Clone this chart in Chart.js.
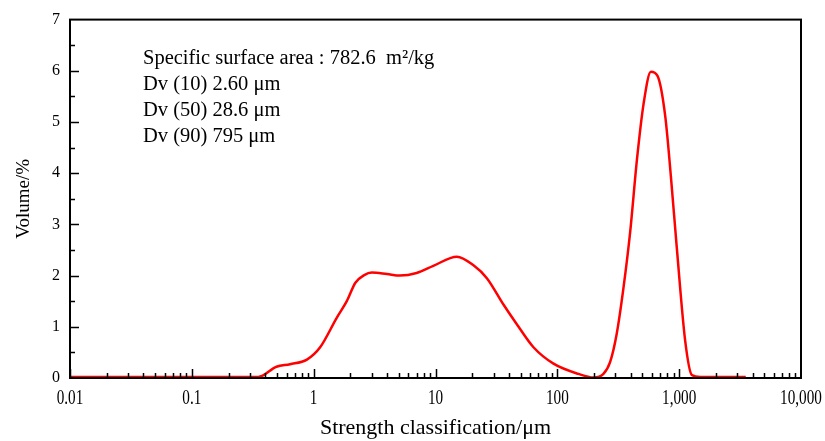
<!DOCTYPE html>
<html lang="en">
<head>
    <meta charset="UTF-8">
    <title>Particle size distribution</title>
    <script src="https://cdn.jsdelivr.net/npm/chart.js"></script>
    <style>
        html, body { margin: 0; padding: 0; background: #fff; }
        #wrap { width: 825px; height: 441px; }
    </style>
</head>
<body>
    <div id="wrap"><canvas id="psd"></canvas></div>

    <script>
        // particle size (um) and volume (%)
        const sizes   = [0.01, 0.35, 0.495, 0.64, 0.88, 1.13, 1.55, 1.87, 2.2, 2.6, 3.0, 4.0, 5.1, 7.0, 9.6, 15, 20.5, 26.4, 36, 46.5, 63.7, 93, 149, 198, 239, 271, 307, 349, 396, 450, 510, 586, 664, 768, 855, 958, 1120, 1270, 1490, 3520];
        const volumes = [0.02, 0.02, 0.22, 0.27, 0.36, 0.60, 1.18, 1.50, 1.86, 2.01, 2.06, 2.03, 2.00, 2.05, 2.19, 2.37, 2.20, 1.95, 1.44, 1.05, 0.60, 0.28, 0.08, 0.01, 0.08, 0.31, 0.86, 1.76, 2.85, 4.26, 5.35, 5.98, 5.90, 5.12, 3.94, 2.52, 0.73, 0.06, 0.02, 0.02];
        const xTickValues = [0.01, 0.1, 1, 10, 100, 1000, 10000];
        const xTickLabels = ['0.01', '0.1', '1', '10', '100', '1,000', '10,000'];
        const notes = ['Specific surface area : 782.6  m\u00b2/kg', 'Dv (10) 2.60 \u03bcm', 'Dv (50) 28.6 \u03bcm', 'Dv (90) 795 \u03bcm'];

        const serif = '"Liberation Serif", "Times New Roman", serif';

        // frame, inward ticks, narrow x labels and the text block
        const decor = {
            id: 'decor',
            afterDraw(chart) {
                const c = chart.ctx, a = chart.chartArea;
                const xs = chart.scales.x, ys = chart.scales.y;
                c.save();
                c.strokeStyle = '#000';
                c.lineWidth = 2;
                c.strokeRect(a.left, a.top, a.right - a.left, a.bottom - a.top);
                c.lineWidth = 1.5;
                c.beginPath();
                for (let e = -2; e < 4; e++) {
                    for (let m = 1; m < 10; m++) {
                        const px = Math.round(xs.getPixelForValue(m * Math.pow(10, e))) + 0.5;
                        const len = m === 1 ? 9 : 5;
                        c.moveTo(px, a.bottom);
                        c.lineTo(px, a.bottom - len);
                    }
                }
                for (let v = 0.5; v < 7; v += 0.5) {
                    const py = Math.round(ys.getPixelForValue(v)) + 0.5;
                    const len = Number.isInteger(v) ? 9 : 5;
                    c.moveTo(a.left, py);
                    c.lineTo(a.left + len, py);
                }
                c.stroke();

                c.fillStyle = '#000';
                c.font = '20px ' + serif;
                c.textAlign = 'center';
                c.textBaseline = 'alphabetic';
                xTickValues.forEach((v, i) => {
                    const px = xs.getPixelForValue(v);
                    c.save();
                    c.translate(px, 404);
                    c.scale(0.76, 1);
                    c.fillText(xTickLabels[i], 0, 0);
                    c.restore();
                });

                c.font = '20.5px ' + serif;
                c.textAlign = 'left';
                c.textBaseline = 'middle';
                notes.forEach((t, i) => c.fillText(t, 143, 59 + i * 26));
                c.restore();
            }
        };

        new Chart(document.getElementById('psd'), {
            type: 'line',
            data: {
                datasets: [{
                    data: sizes.map((s, i) => ({x: s, y: volumes[i]})),
                    borderColor: '#ff0000',
                    borderWidth: 2.5,
                    pointRadius: 0,
                    cubicInterpolationMode: 'monotone',
                    fill: false
                }]
            },
            options: {
                responsive: true,
                maintainAspectRatio: false,
                animation: false,
                layout: { padding: { top: 14, right: 24, left: 0, bottom: 0 } },
                plugins: { legend: { display: false }, tooltip: { enabled: false } },
                scales: {
                    x: {
                        type: 'logarithmic',
                        min: 0.01,
                        max: 10000,
                        grid: { display: false, drawTicks: false },
                        border: { display: false },
                        afterFit(s) { s.height = 63; },
                        ticks: { display: false },
                        title: {
                            display: true,
                            text: 'Strength classification/\u03bcm',
                            color: '#000',
                            font: { family: serif, size: 22 },
                            padding: { top: 6, bottom: 0 }
                        }
                    },
                    y: {
                        min: 0,
                        max: 7,
                        grid: { display: false, drawTicks: false },
                        border: { display: false },
                        afterFit(s) { s.width = 70; },
                        ticks: {
                            stepSize: 1,
                            color: '#000',
                            font: { family: serif, size: 16 },
                            padding: 10
                        },
                        title: {
                            display: true,
                            text: 'Volume/%',
                            color: '#000',
                            font: { family: serif, size: 19 },
                            padding: { top: 13, bottom: 0 }
                        }
                    }
                }
            },
            plugins: [decor]
        });
    </script>
</body>
</html>
